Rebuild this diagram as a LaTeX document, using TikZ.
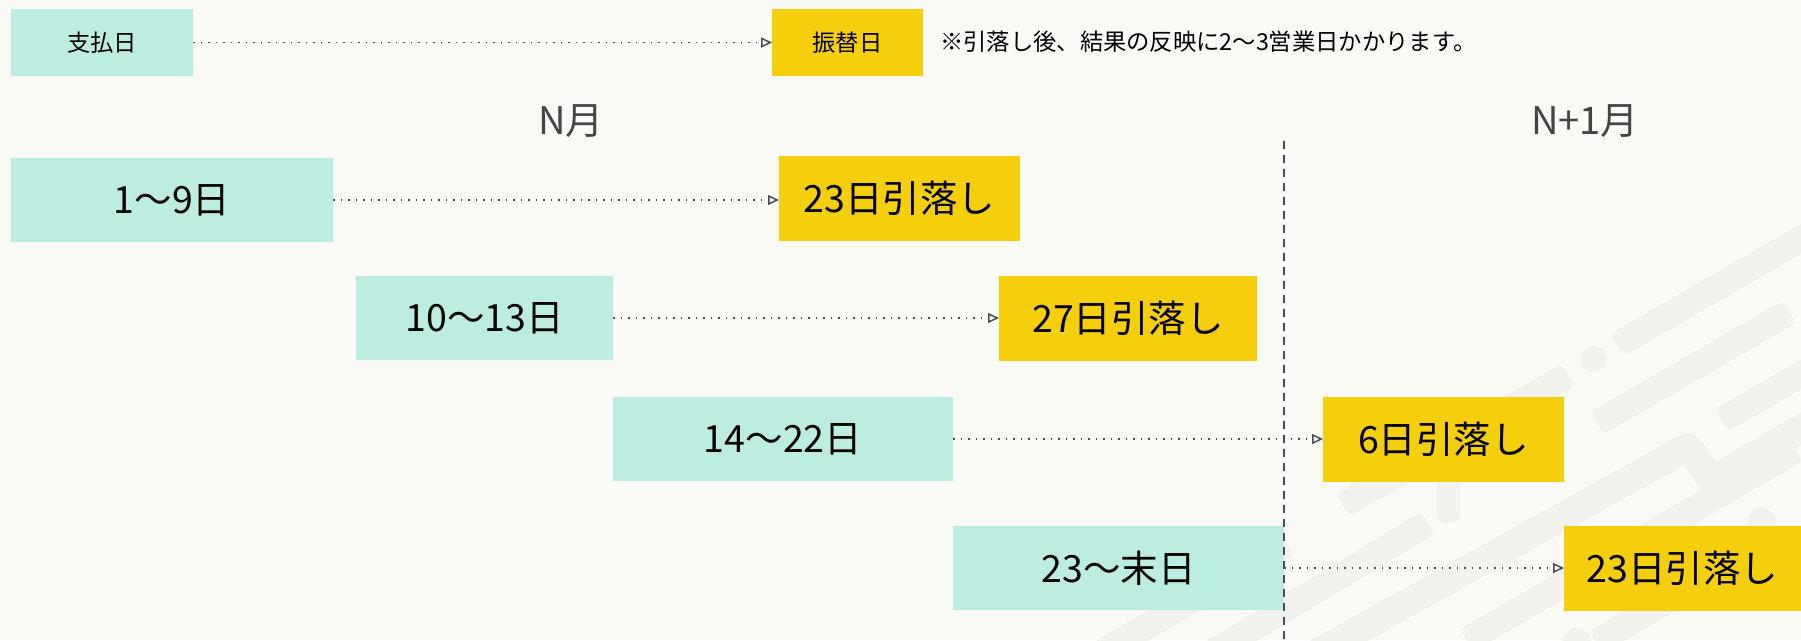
\documentclass[tikz,border=0pt]{standalone}
\usepackage{fontspec}
\setmainfont{Noto Sans CJK JP}
\usetikzlibrary{arrows.meta}
\definecolor{bgc}{HTML}{FAFAF6}
\definecolor{decoc}{HTML}{F1F1ED}
\definecolor{tealc}{HTML}{BDEDE0}
\definecolor{yelc}{HTML}{F5CE0C}
\definecolor{linec}{HTML}{4A4E57}
\definecolor{labc}{HTML}{454545}
\newcommand\decobar[4]{\fill[decoc,shift={(#1,#2)},rotate=#3,rounded corners=5pt] (0,-13) rectangle (#4,13);}
\begin{document}
\begin{tikzpicture}[x=1pt,y=-1pt,
  box/.style={rectangle,inner sep=0pt,outer sep=0pt,anchor=north west,minimum height=84pt,text=black},
  paybox/.style={box,fill=tealc},
  debbox/.style={box,fill=yelc},
  bigtxt/.style={font=\fontsize{37.5}{44}\selectfont},
  smalltxt/.style={font=\fontsize{23.3}{28}\selectfont},
  monthlab/.style={font=\fontsize{38}{44}\selectfont,text=labc},
  flow/.style={draw=linec,line width=1.7pt,dash pattern=on 1.5pt off 6pt,
    -{Triangle[open,length=11pt,width=10pt,line width=1.5pt]}},
  divider/.style={draw=linec,line width=2pt,dash pattern=on 7.5pt off 6.5pt}]
\useasboundingbox (0,0) rectangle (1801,640);
\fill[bgc] (0,0) rectangle (1801,640);
% background decoration
\begin{scope}
\clip (0,0) rectangle (1801,640);
\decobar{1617}{345}{30}{260}
\fill[decoc] (1594,359) circle (13);
\decobar{1343}{505}{30}{260}
\decobar{1597}{423}{30}{222}
\decobar{1722}{420}{30}{150}
\decobar{1150}{690}{31}{324}
\decobar{1080}{665}{30}{240}
\decobar{1467}{640}{30}{380}
\decobar{1596}{642}{30}{200}
\fill[decoc] (1762,522) circle (14);
\fill[decoc] (1577,642) circle (14);
\fill[decoc,rounded corners=5pt] (1437,470) rectangle (1460,522);
\draw[decoc,line width=28pt,line join=round] (1290,668) -- (1688,447) -- (1712,480) -- (1850,400);
\end{scope}
% legend
\node[paybox,minimum width=182pt,minimum height=67pt,smalltxt] (lpay) at (11,9) {支払日};
\node[debbox,minimum width=151pt,minimum height=67pt,smalltxt] (ldeb) at (772,9) {振替日};
\node[smalltxt,anchor=west,inner sep=0pt] (note) at (940,42) {※引落し後、結果の反映に2〜3営業日かかります。};
\draw[flow] (lpay.east) -- (lpay.east -| ldeb.west);
% month labels
\node[monthlab] (mN) at (571,121) {N月};
\node[monthlab] (mN1) at (1585,121) {N+1月};
% rows
\node[paybox,minimum width=322pt,bigtxt] (t1) at (11,158) {1〜9日};
\node[debbox,minimum width=241pt,minimum height=85pt,bigtxt] (y1) at (779,156) {23日引落し};
\node[paybox,minimum width=257pt,bigtxt] (t2) at (356,276) {10〜13日};
\node[debbox,minimum width=258pt,minimum height=85pt,bigtxt] (y2) at (999,276) {27日引落し};
\node[paybox,minimum width=340pt,bigtxt] (t3) at (613,397) {14〜22日};
\node[debbox,minimum width=241pt,minimum height=85pt,bigtxt] (y3) at (1323,397) {6日引落し};
\node[paybox,minimum width=331pt,bigtxt] (t4) at (953,526) {23〜末日};
\node[debbox,minimum width=237pt,minimum height=85pt,bigtxt] (y4) at (1564,526) {23日引落し};
\draw[flow] (t1.east) -- (t1.east -| y1.west);
\draw[flow] (t2.east) -- (t2.east -| y2.west);
\draw[flow] (t3.east) -- (t3.east -| y3.west);
\draw[flow] (t4.east) -- (t4.east -| y4.west);
% month divider
\coordinate (dtop) at (1284,141);
\coordinate (dbot) at (1284,640);
\draw[divider] (dtop) -- (dbot);
\end{tikzpicture}
\end{document}
